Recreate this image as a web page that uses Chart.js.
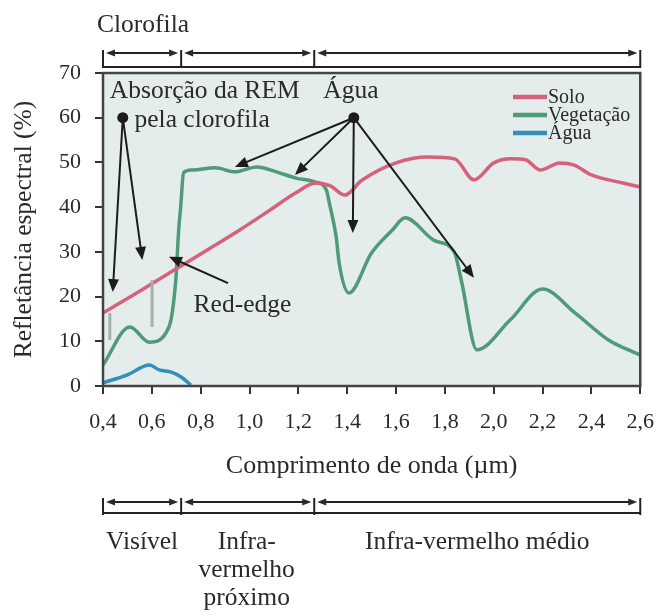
<!DOCTYPE html>
<html lang="pt">
<head>
<meta charset="utf-8">
<title>Refletância espectral</title>
<script src="https://cdn.jsdelivr.net/npm/chart.js@4.4.1/dist/chart.umd.min.js"></script>
<style>
  html, body { margin: 0; padding: 0; background: #fff; }
  #wrap { width: 669px; height: 616px; position: relative; }
</style>
</head>
<body>
<div id="wrap"><canvas id="graficoReflectancia"></canvas></div>
<script>
// =========================
// DADOS
// =========================

const soloOnda = [0.40, 0.55, 0.70, 0.85, 0.96, 1.08, 1.19, 1.27, 1.33, 1.39, 1.46, 1.60, 1.73, 1.84, 1.92, 2.00, 2.07, 2.13, 2.19, 2.27, 2.33, 2.40, 2.53, 2.60];
const soloRefl = [16.3, 21.2, 26.2, 31.2, 34.9, 39.2, 43.2, 45.4, 44.8, 42.7, 46.0, 49.9, 51.2, 50.8, 46.1, 49.9, 50.8, 50.6, 48.3, 49.9, 49.4, 47.2, 45.4, 44.5];

const vegOnda = [0.40, 0.51, 0.59, 0.67, 0.698, 0.71, 0.718, 0.73, 0.763, 0.86, 0.94, 1.03, 1.11, 1.19, 1.27, 1.315, 1.327, 1.355, 1.367, 1.407, 1.50, 1.585, 1.637, 1.758, 1.838, 1.867, 1.931, 2.068, 2.20, 2.334, 2.47, 2.60];
const vegRefl = [4.7, 13.2, 9.8, 13.2, 23.7, 34.9, 40.0, 47.7, 48.3, 48.8, 47.9, 49.0, 47.9, 46.5, 45.6, 43.8, 40.9, 33.3, 27.5, 20.8, 29.8, 34.9, 37.6, 32.5, 30.0, 23.7, 8.1, 14.8, 21.7, 16.3, 10.3, 6.9];

const aguaOnda = [0.40, 0.50, 0.59, 0.63, 0.68, 0.72, 0.76];
const aguaRefl = [0.7, 2.5, 4.7, 3.6, 3.1, 2.0, 0.2];

const series = ['Solo', 'Vegetação', 'Água'];
const cores = ['#d5617a', '#4f9a78', '#3490bb'];

// faixas do espectro (µm)
const faixasLimites = [0.4, 0.72, 1.265, 2.6];
const faixasNomes = [['Visível'], ['Infra-', 'vermelho', 'próximo'], ['Infra-vermelho médio']];

const SERIF = "'Liberation Serif', 'DejaVu Serif', serif";
const TINTA = '#2a2a2a';

function pares(xs, ys) {
    return xs.map((x, i) => ({ x: x, y: ys[i] }));
}

function seta(ctx, x1, y1, x2, y2, tam) {
    const ang = Math.atan2(y2 - y1, x2 - x1);
    const c = Math.cos(ang), s = Math.sin(ang);
    ctx.beginPath();
    ctx.moveTo(x1, y1);
    ctx.lineTo(x2 - c * tam * 0.7, y2 - s * tam * 0.7);
    ctx.stroke();
    ctx.beginPath();
    ctx.moveTo(x2, y2);
    ctx.lineTo(x2 - tam * c + tam * 0.42 * s, y2 - tam * s - tam * 0.42 * c);
    ctx.lineTo(x2 - tam * c - tam * 0.42 * s, y2 - tam * s + tam * 0.42 * c);
    ctx.closePath();
    ctx.fill();
}

function chave(ctx, xs, yTopo, ySeta, yBase, yFim) {
    ctx.beginPath();
    ctx.moveTo(xs[0], yBase);
    ctx.lineTo(xs[xs.length - 1], yBase);
    ctx.stroke();
    xs.forEach((x) => {
        ctx.beginPath();
        ctx.moveTo(x, yTopo);
        ctx.lineTo(x, yFim);
        ctx.stroke();
    });
    for (let i = 0; i < xs.length - 1; i++) {
        const a = xs[i] + 3, b = xs[i + 1] - 3;
        ctx.beginPath();
        ctx.moveTo(a + 6, ySeta);
        ctx.lineTo(b - 6, ySeta);
        ctx.stroke();
        ctx.beginPath();
        ctx.moveTo(a, ySeta); ctx.lineTo(a + 9, ySeta - 3.5); ctx.lineTo(a + 9, ySeta + 3.5);
        ctx.closePath(); ctx.fill();
        ctx.beginPath();
        ctx.moveTo(b, ySeta); ctx.lineTo(b - 9, ySeta - 3.5); ctx.lineTo(b - 9, ySeta + 3.5);
        ctx.closePath(); ctx.fill();
    }
}

// =========================
// PLUGIN: fundo, moldura, anotações
// =========================

const pluginFigura = {
    id: 'figura',
    beforeDatasetsDraw(chart) {
        const { ctx, chartArea: a } = chart;
        ctx.save();
        ctx.fillStyle = '#e4ecec';
        ctx.fillRect(a.left, a.top, a.right - a.left, a.bottom - a.top);
        ctx.restore();
    },
    afterDatasetsDraw(chart) {
        const { ctx, chartArea: a, scales } = chart;
        const px = (w) => scales.x.getPixelForValue(w);
        const py = (v) => scales.y.getPixelForValue(v);

        ctx.save();

        // moldura
        ctx.strokeStyle = '#444';
        ctx.lineWidth = 2.5;
        ctx.strokeRect(a.left, a.top, a.right - a.left, a.bottom - a.top);

        // faixas cinza de absorção
        ctx.strokeStyle = '#a9aeae';
        ctx.lineWidth = 3;
        ctx.beginPath();
        ctx.moveTo(px(0.601), py(23.7)); ctx.lineTo(px(0.601), py(13.2));
        ctx.moveTo(px(0.428), py(16.3)); ctx.lineTo(px(0.428), py(10.3));
        ctx.stroke();

        // legenda
        ctx.font = '20px ' + SERIF;
        ctx.textBaseline = 'middle';
        ctx.textAlign = 'left';
        chart.data.datasets.forEach((ds, i) => {
            const y = 97 + i * 18;
            ctx.strokeStyle = ds.borderColor;
            ctx.lineWidth = 4.5;
            ctx.beginPath();
            ctx.moveTo(513, y);
            ctx.lineTo(547, y);
            ctx.stroke();
            ctx.fillStyle = TINTA;
            ctx.fillText(ds.label, 548, y + 1);
        });

        // textos das anotações
        ctx.fillStyle = TINTA;
        ctx.font = '25.5px ' + SERIF;
        ctx.textBaseline = 'alphabetic';
        ctx.fillText('Absorção da REM', px(0.428), py(64.4));
        ctx.fillText('pela clorofila', px(0.529), py(57.9));
        ctx.fillText('Água', px(1.302), py(64.4));
        ctx.fillText('Red-edge', px(0.771), py(16.6));

        // setas
        ctx.strokeStyle = '#1c1c1c';
        ctx.fillStyle = '#1c1c1c';
        ctx.lineWidth = 2;
        const dotAbs = [px(0.481), py(60)];
        seta(ctx, dotAbs[0], dotAbs[1], px(0.44), py(21.0), 13);
        seta(ctx, dotAbs[0], dotAbs[1], px(0.561), py(28.2), 13);
        const dotAgua = [px(1.427), py(60)];
        seta(ctx, dotAgua[0], dotAgua[1], px(0.94), py(49.0), 13);
        seta(ctx, dotAgua[0], dotAgua[1], px(1.186), py(47.2), 13);
        seta(ctx, dotAgua[0], dotAgua[1], px(1.423), py(34.2), 13);
        seta(ctx, dotAgua[0], dotAgua[1], px(1.919), py(24.2), 13);
        seta(ctx, px(0.912), py(23.0), px(0.67), py(28.9), 13);
        [dotAbs, dotAgua].forEach((d) => {
            ctx.beginPath();
            ctx.arc(d[0], d[1], 5.5, 0, Math.PI * 2);
            ctx.fill();
        });

        ctx.restore();
    },
    afterDraw(chart) {
        const { ctx, scales } = chart;
        const xs = faixasLimites.map((w) => scales.x.getPixelForValue(w));

        ctx.save();
        ctx.fillStyle = TINTA;
        ctx.strokeStyle = '#222';
        ctx.lineWidth = 2;
        ctx.font = '25.5px ' + SERIF;
        ctx.textAlign = 'left';
        ctx.textBaseline = 'alphabetic';
        ctx.fillText('Clorofila', 97, 32);

        chave(ctx, xs, 50, 53, 67, 68);
        chave(ctx, xs, 498, 502, 513, 515);

        ctx.textAlign = 'center';
        faixasNomes.forEach((linhas, i) => {
            const cx = (xs[i] + xs[i + 1]) / 2 + (i === 1 ? -1 : 0);
            linhas.forEach((t, j) => {
                ctx.fillText(t, cx, 549 + j * 28);
            });
        });
        ctx.restore();
    }
};

// =========================
// GRÁFICO
// =========================

const graficoReflectancia = document.getElementById('graficoReflectancia');

if (graficoReflectancia) {

    const ctx = graficoReflectancia.getContext('2d');
    const valores = [pares(soloOnda, soloRefl), pares(vegOnda, vegRefl), pares(aguaOnda, aguaRefl)];

    new Chart(ctx, {
        type: 'line',
        data: {
            datasets: series.map((nome, i) => ({
                label: nome,
                data: valores[i],
                borderColor: cores[i],
                backgroundColor: cores[i],
                borderWidth: 3.5,
                pointRadius: 0,
                cubicInterpolationMode: 'monotone',
                fill: false
            }))
        },
        options: {
            responsive: true,
            maintainAspectRatio: false,
            animation: false,
            layout: {
                padding: { top: 73, right: 20, bottom: 134, left: 0 }
            },
            scales: {
                x: {
                    type: 'linear',
                    min: 0.4,
                    max: 2.6,
                    ticks: {
                        stepSize: 0.2,
                        padding: 15,
                        color: TINTA,
                        font: { family: SERIF, size: 22 },
                        callback: (value) => value.toFixed(1).replace('.', ',')
                    },
                    grid: {
                        drawOnChartArea: false,
                        tickLength: 8,
                        color: '#333',
                        lineWidth: 2
                    },
                    border: { display: false },
                    title: {
                        display: true,
                        text: 'Comprimento de onda (µm)',
                        color: TINTA,
                        font: { family: SERIF, size: 26 },
                        padding: 0
                    },
                    afterFit: (scale) => { scale.height = 96; }
                },
                y: {
                    min: 0,
                    max: 70,
                    ticks: {
                        stepSize: 10,
                        padding: 14,
                        color: TINTA,
                        font: { family: SERIF, size: 22 }
                    },
                    grid: {
                        drawOnChartArea: false,
                        tickLength: 8,
                        color: '#333',
                        lineWidth: 2
                    },
                    border: { display: false },
                    title: {
                        display: true,
                        text: 'Refletância espectral (%)',
                        color: TINTA,
                        font: { family: SERIF, size: 25.5 },
                        padding: { top: 9, bottom: 0 }
                    },
                    afterFit: (scale) => { scale.width = 103; }
                }
            },
            plugins: {
                legend: { display: false },
                tooltip: { enabled: false }
            }
        },
        plugins: [pluginFigura]
    });
}
</script>
</body>
</html>
